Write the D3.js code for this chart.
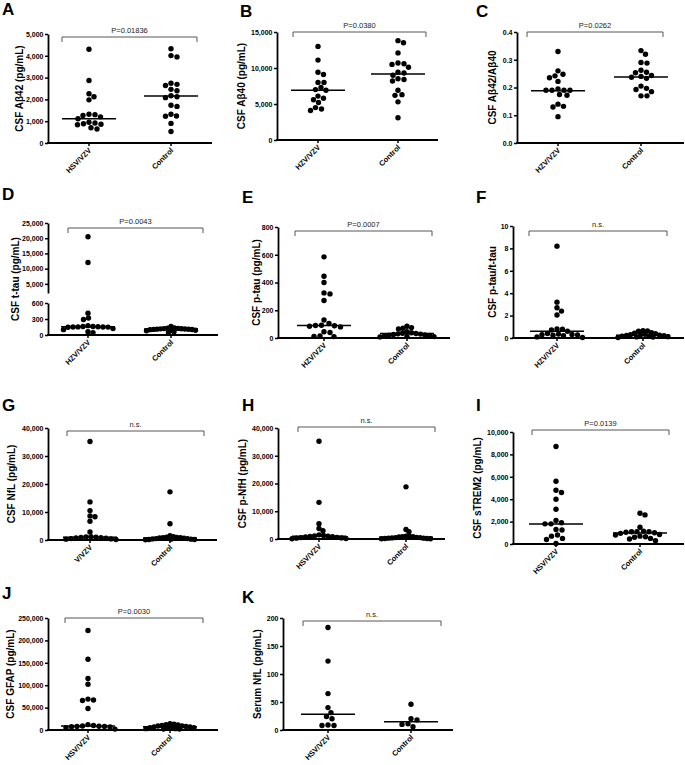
<!DOCTYPE html>
<html>
<head>
<meta charset="utf-8">
<script src="https://cdn.jsdelivr.net/npm/d3@7"></script>
<style>
  body { margin: 0; background: #fff; }
  svg { display: block; font-family: "Liberation Sans", Arial, sans-serif; }
</style>
</head>
<body>
<svg id="fig" width="685" height="765"></svg>
<script>
// ---- data ----
var groupsHsv = ['HSV/VZV', 'Control']
var groupsHzv = ['HZV/VZV', 'Control']
var groupsVzv = ['V/VZV', 'Control']

var abeta42Hsv = [4300, 2870, 2260, 2120, 1980, 1320, 1300, 1260, 1200, 1110, 950, 920, 880, 860, 840, 700, 640]
var abeta42Ctrl = [4320, 4010, 3950, 2740, 2690, 2640, 2460, 2400, 2170, 2120, 2080, 1730, 1680, 1320, 1240, 1230, 900, 530]
var abeta40Hzv = [13000, 11100, 9400, 9100, 8000, 8000, 7300, 7000, 6900, 6100, 5800, 5600, 5200, 4500, 4300, 4100]
var abeta40Ctrl = [13800, 13500, 12100, 10700, 10600, 10500, 10100, 9400, 9300, 9000, 8500, 8400, 8200, 6900, 6300, 6200, 5300, 3100]
var ratioHzv = [0.33, 0.26, 0.248, 0.242, 0.235, 0.222, 0.195, 0.19, 0.19, 0.19, 0.19, 0.175, 0.172, 0.14, 0.132, 0.13, 0.095]
var ratioCtrl = [0.333, 0.32, 0.29, 0.288, 0.262, 0.255, 0.253, 0.243, 0.24, 0.237, 0.233, 0.205, 0.197, 0.193, 0.185, 0.17, 0.17]
var ttauHzv = [20500, 12000, 410, 320, 290, 175, 160, 158, 155, 152, 150, 150, 148, 145, 120, 100, 60, 45]
var ttauCtrl = [160, 132, 128, 124, 120, 118, 115, 112, 110, 108, 105, 102, 100, 95, 90, 80, 60, 50]
var ptauHzv = [585, 445, 400, 325, 318, 270, 130, 105, 92, 90, 88, 85, 80, 45, 40, 15, 12, 10]
var ptauCtrl = [85, 75, 70, 65, 45, 38, 34, 32, 30, 28, 25, 22, 20, 18, 15, 12, 10, 8]
var pttHzv = [8.2, 3.2, 2.7, 2.4, 2.05, 0.8, 0.78, 0.72, 0.6, 0.4, 0.35, 0.32, 0.3, 0.28, 0.25, 0.2, 0.1, 0.05]
var pttCtrl = [0.65, 0.64, 0.6, 0.48, 0.42, 0.38, 0.33, 0.3, 0.28, 0.25, 0.22, 0.2, 0.18, 0.15, 0.12, 0.1, 0.08, 0.05]
var nflVzv = [35200, 13600, 10500, 8600, 8300, 6700, 2900, 1200, 1100, 1000, 900, 800, 700, 600, 500, 400, 300, 200]
var nflCtrl = [17200, 5800, 1500, 1200, 1000, 900, 800, 700, 600, 500, 500, 400, 300, 300, 200, 200, 100, 800]
var pnfhHsv = [35200, 13200, 5500, 3800, 3000, 1500, 1300, 1100, 1000, 900, 800, 700, 600, 500, 400, 300, 200, 100]
var pnfhCtrl = [18800, 3400, 2600, 1000, 900, 800, 800, 700, 600, 500, 500, 400, 300, 300, 200, 200, 100, 100]
var trem2Hsv = [8700, 5600, 4800, 4600, 4000, 3100, 2100, 1900, 1800, 1800, 1300, 1250, 800, 700, 500, 400, 50]
var trem2Ctrl = [2750, 2600, 1500, 1150, 1100, 1100, 1100, 1050, 1000, 950, 850, 800, 700, 650, 600, 500, 450, 300]
var gfapHsv = [222000, 158000, 115000, 102000, 69000, 67000, 66000, 48000, 12000, 10000, 9000, 8500, 8000, 8000, 7500, 7000, 5000, 2000]
var gfapCtrl = [14000, 13000, 12000, 11000, 10000, 9000, 9000, 8000, 7000, 7000, 6000, 5000, 5000, 4000, 3000, 3000, 2000, 2000]
var serumNflHsv = [183, 123, 65, 40, 31, 24, 20, 9, 8, 8]
var serumNflCtrl = [46, 20, 18, 11, 10, 6]

// median lines [group 1, group 2]
var medA = [1110, 2160], medB = [6900, 9150], medC = [0.188, 0.238], medD = [155, 112]
var medE = [90, 32], medF = [0.6, 0.25], medG = [1000, 700], medH = [1000, 600]
var medI = [1790, 985], medJ = [9000, 7000], medK = [28, 14.8]

var pLabels = ['P=0.01836', 'P=0.0380', 'P=0.0262', 'P=0.0043', 'P=0.0007', 'n.s.',
               'n.s.', 'n.s.', 'P=0.0139', 'P=0.0030', 'n.s.']

var ticksA = [0, 1000, 2000, 3000, 4000, 5000]
var ticksB = [0, 5000, 10000, 15000]
var ticksC = [0, 0.1, 0.2, 0.3, 0.4]
var ticksDLow = [0, 300, 600]
var ticksDHigh = [5000, 10000, 15000, 20000, 25000]
var ticksE = [0, 200, 400, 600, 800]
var ticksF = [0, 2, 4, 6, 8, 10]
var ticksGH = [0, 10000, 20000, 30000, 40000]
var ticksI = [0, 2000, 4000, 6000, 8000, 10000]
var ticksJ = [0, 50000, 100000, 150000, 200000, 250000]
var ticksK = [0, 50, 100, 150, 200]

// ---- layout ----
var comma = d3.format(',')
var panels = [
  {letter: 'A', lx: 2, ly: 15, x0: 48, x1: 212, c: [89, 171], groups: groupsHsv, vals: [abeta42Hsv, abeta42Ctrl], med: medA,
   seg: [{d: [0, 5000], r: [143, 34], t: ticksA}], fmt: comma, title: 'CSF Aβ42 (pg/mL)', tx: 19, br: [62, 197, 37], p: pLabels[0]},
  {letter: 'B', lx: 240, ly: 17, x0: 277, x1: 438, c: [318, 398], groups: groupsHzv, vals: [abeta40Hzv, abeta40Ctrl], med: medB,
   seg: [{d: [0, 15000], r: [140, 32], t: ticksB}], fmt: comma, title: 'CSF Aβ40 (pg/mL)', tx: 241, br: [293, 426, 32], p: pLabels[1]},
  {letter: 'C', lx: 476, ly: 17, x0: 517, x1: 684, c: [558, 641], groups: groupsHzv, vals: [ratioHzv, ratioCtrl], med: medC,
   seg: [{d: [0, 0.4], r: [143, 32], t: ticksC}], fmt: d3.format('.1f'), title: 'CSF Aβ42/Aβ40', tx: 492, br: [527, 663, 32], p: pLabels[2]},
  {letter: 'D', lx: 2, ly: 200, x0: 48, x1: 218, c: [88, 171], groups: groupsHzv, vals: [ttauHzv, ttauCtrl], med: medD,
   seg: [{d: [0, 600], r: [335, 303], t: ticksDLow}, {d: [2000, 25000], r: [293, 223], t: ticksDHigh}], fmt: comma,
   title: 'CSF t-tau (pg/mL)', tx: 15, br: [68, 203, 228], p: pLabels[3]},
  {letter: 'E', lx: 242, ly: 203, x0: 278, x1: 450, c: [324, 407], groups: groupsHzv, vals: [ptauHzv, ptauCtrl], med: medE,
   seg: [{d: [0, 800], r: [338, 227], t: ticksE}], fmt: comma, title: 'CSF p-tau (pg/mL)', tx: 256, br: [295, 432, 231], p: pLabels[4]},
  {letter: 'F', lx: 476, ly: 203, x0: 513, x1: 684, c: [557, 643], groups: groupsHzv, vals: [pttHzv, pttCtrl], med: medF,
   seg: [{d: [0, 10], r: [338, 226], t: ticksF}], fmt: d3.format('d'), title: 'CSF p-tau/t-tau', tx: 492, br: [529, 667, 231], p: pLabels[5]},
  {letter: 'G', lx: 2, ly: 411, x0: 48, x1: 217, c: [90, 170], groups: groupsVzv, vals: [nflVzv, nflCtrl], med: medG,
   seg: [{d: [0, 40000], r: [540, 428], t: ticksGH}], fmt: comma, title: 'CSF NfL (pg/mL)', tx: 11, br: [67, 204, 431], p: pLabels[6]},
  {letter: 'H', lx: 242, ly: 411, x0: 278, x1: 445, c: [319, 406], groups: groupsHsv, vals: [pnfhHsv, pnfhCtrl], med: medH,
   seg: [{d: [0, 40000], r: [539, 428], t: ticksGH}], fmt: comma, title: 'CSF p-NfH (pg/mL)', tx: 242, br: [298, 435, 427], p: pLabels[7]},
  {letter: 'I', lx: 476, ly: 411, x0: 513, x1: 684, c: [556, 640], groups: groupsHsv, vals: [trem2Hsv, trem2Ctrl], med: medI,
   seg: [{d: [0, 10000], r: [544, 432], t: ticksI}], fmt: comma, title: 'CSF sTREM2 (pg/mL)', tx: 477, br: [532, 669, 430], p: pLabels[8]},
  {letter: 'J', lx: 2, ly: 599, x0: 48, x1: 218, c: [88, 170], groups: groupsHsv, vals: [gfapHsv, gfapCtrl], med: medJ,
   seg: [{d: [0, 250000], r: [730, 618], t: ticksJ}], fmt: comma, title: 'CSF GFAP (pg/mL)', tx: 10, br: [65, 203, 618], p: pLabels[9]},
  {letter: 'K', lx: 242, ly: 603, x0: 283, x1: 453, c: [328, 411], groups: groupsHsv, vals: [serumNflHsv, serumNflCtrl], med: medK,
   seg: [{d: [0, 200], r: [730, 618], t: ticksK}], fmt: comma, title: 'Serum NfL (pg/mL)', tx: 257, br: [303, 441, 621], p: pLabels[10]},
]

var R = 2.7
var HALF = 27   // max half-width of a column of dots
var svg = d3.select('#fig')

// beeswarm: put each dot as near the centre as it can go,
// squeezing the spacing when a row gets wider than the column
function swarm(vals, cx, yOf){
  var minD = 2*R + 0.3
  for (var tries = 0; tries < 12; tries++){
    var placed = []
    vals.slice().sort((a, b) => b - a).forEach(v => {
      var y = yOf(v)
      for (var k = 0; k < 400; k++){
        var off = (k % 2 ? 1 : -1)*Math.ceil(k/2)*0.5
        var x = cx + off
        if (placed.every(p => (p.x - x)*(p.x - x) + (p.y - y)*(p.y - y) >= minD*minD)){
          placed.push({x, y, v})
          break
        }
      }
    })
    if (d3.max(placed, p => Math.abs(p.x - cx)) <= HALF) break
    minD *= 0.92
  }
  return placed
}

panels.forEach(p => {
  var g = svg.append('g')

  g.append('text').text(p.letter)
    .attr('x', p.lx).attr('y', p.ly)
    .style('font-size', '17px').style('font-weight', 'bold')

  var scales = p.seg.map(s => d3.scaleLinear().domain(s.d).range(s.r))
  function yOf(v){
    for (var i = p.seg.length - 1; i >= 0; i--){
      if (v >= p.seg[i].d[0]) return scales[i](v)
    }
    return scales[0](v)
  }

  // y axis (one piece per segment for the broken axis)
  p.seg.forEach((s, i) => {
    var ax = g.append('g').attr('transform', `translate(${p.x0},0)`)
      .call(d3.axisLeft(scales[i]).tickValues(s.t).tickFormat(p.fmt).tickSize(3).tickSizeOuter(0).tickPadding(1.5))
    ax.select('.domain').attr('stroke', '#000').attr('stroke-width', 1.8)
    ax.selectAll('.tick line').attr('stroke-width', 1.5)
    ax.selectAll('.tick text').style('font-size', '7px').style('font-weight', 'bold')
      .style('font-family', '"Liberation Sans", Arial, sans-serif')
  })

  var yBase = p.seg[0].r[0]
  var yTop = p.seg[p.seg.length - 1].r[1]

  // x axis
  var x = d3.scalePoint().domain(p.groups).range(p.c)
  g.append('line').attr('x1', p.x0 - 0.9).attr('x2', p.x1).attr('y1', yBase).attr('y2', yBase)
    .attr('stroke', '#000').attr('stroke-width', 1.8)
  var xt = g.selectAll('.xt').data(p.groups).enter().append('g')
    .attr('transform', d => `translate(${x(d)},${yBase})`)
  xt.append('line').attr('y2', 3).attr('stroke', '#000').attr('stroke-width', 1.5)
  xt.append('text').text(d => d)
    .attr('transform', 'translate(1,6) rotate(-45)')
    .attr('text-anchor', 'end').attr('dy', '0.35em')
    .style('font-size', '7.5px').style('font-weight', 'bold')

  // y title
  g.append('text').text(p.title)
    .attr('transform', `translate(${p.tx},${(yBase + yTop)/2}) rotate(-90)`)
    .attr('text-anchor', 'middle').attr('dy', '0.35em')
    .style('font-size', '10px').style('font-weight', 'bold')

  // significance bracket
  var [bx1, bx2, by] = p.br
  g.append('path').attr('d', `M${bx1},${by + 5}V${by}H${bx2}V${by + 5}`)
    .attr('fill', 'none').attr('stroke', '#444').attr('stroke-width', 0.9)
  g.append('text').text(p.p)
    .attr('x', (bx1 + bx2)/2).attr('y', by - 4)
    .attr('text-anchor', 'middle')
    .style('font-size', '7.5px').style('fill', '#222')

  // dots + median lines
  p.groups.forEach((grp, gi) => {
    var pts = swarm(p.vals[gi], x(grp), yOf)
    g.selectAll(null).data(pts).enter().append('circle')
      .attr('cx', d => d.x).attr('cy', d => d.y).attr('r', R).attr('fill', '#000')
    g.append('line')
      .attr('x1', x(grp) - HALF).attr('x2', x(grp) + HALF)
      .attr('y1', yOf(p.med[gi])).attr('y2', yOf(p.med[gi]))
      .attr('stroke', '#000').attr('stroke-width', 1.5)
  })
})
</script>
</body>
</html>
